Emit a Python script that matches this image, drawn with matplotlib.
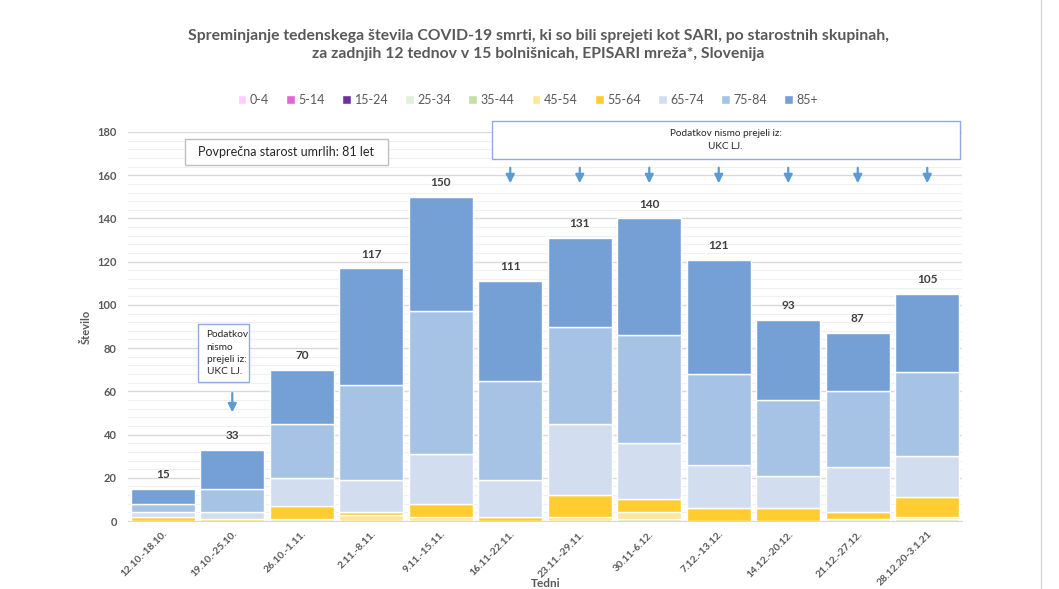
import numpy as np
import matplotlib
matplotlib.use("Agg")
import matplotlib.pyplot as plt
from matplotlib.patches import Rectangle

plt.rcParams["font.family"] = ["Lato", "DejaVu Sans"]

# Data
weeks = ["12.10.-18.10.", "19.10.-25.10.", "26.10.-1.11.", "2.11.-8.11.",
         "9.11.-15.11.", "16.11-22.11.", "23.11.-29.11.", "30.11-6.12.",
         "7.12.-13.12.", "14.12.-20.12.", "21.12.-27.12.", "28.12.20-3.1.21"]
groups = ["0-4", "5-14", "15-24", "25-34", "35-44", "45-54", "55-64", "65-74", "75-84", "85+"]
age_0_4 = [0, 0, 0, 0, 0, 0, 0, 0, 0, 0, 0, 0]
age_5_14 = [0, 0, 0, 0, 0, 0, 0, 0, 0, 0, 0, 0]
age_15_24 = [0, 0, 0, 0, 0, 0, 0, 0, 0, 0, 0, 0]
age_25_34 = [0, 0, 0, 0, 0, 0, 0, 0, 0, 0, 0, 0]
age_35_44 = [0, 0, 1, 0, 0, 0, 0, 1, 0, 0, 1, 1]
age_45_54 = [0, 0, 0, 3, 2, 0, 2, 3, 0, 0, 0, 1]
age_55_64 = [2, 1, 6, 1, 6, 2, 10, 6, 6, 6, 3, 9]
age_65_74 = [2, 3, 13, 15, 23, 17, 33, 26, 20, 15, 21, 19]
age_75_84 = [4, 11, 25, 44, 66, 46, 45, 50, 42, 35, 35, 39]
age_85 = [7, 18, 25, 54, 53, 46, 41, 54, 53, 37, 27, 36]
series = [age_0_4, age_5_14, age_15_24, age_25_34, age_35_44,
          age_45_54, age_55_64, age_65_74, age_75_84, age_85]
colors = ["#FFCCFF", "#E564D6", "#7030A0", "#E2EFDA", "#C5E0A5",
          "#FFE699", "#FFCD2F", "#D2DEEF", "#A6C3E6", "#74A0D6"]
missing_weeks = [5, 6, 7, 8, 9, 10, 11]

txt = "#595959"
fig = plt.figure(figsize=(10.59, 5.89), dpi=100)
ax = fig.add_axes([0.1209, 0.1154, 0.7875, 0.6605])

x = np.arange(len(weeks))
bottom = np.zeros(len(weeks))
for name, vals, c in zip(groups, series, colors):
    ax.bar(x, vals, bottom=bottom, width=0.92, color=c, edgecolor="white",
           linewidth=1, label=name, zorder=3)
    bottom += np.array(vals)

for i, t in enumerate(bottom):
    ax.text(i, t + 4, str(int(t)), ha="center", va="bottom", fontsize=8.5,
            fontweight="bold", color="#404040")

ax.set_xlim(-0.5, len(weeks) - 0.5)
ax.set_ylim(0, 180)
ax.set_yticks(np.arange(0, 181, 20))
ax.set_yticks(np.arange(0, 181, 4), minor=True)
ax.grid(axis="y", which="major", color="#d9d9d9", linewidth=1, zorder=0)
ax.grid(axis="y", which="minor", color="#f0f0f0", linewidth=0.8, zorder=0)
ax.tick_params(axis="y", which="both", length=0, labelsize=8, labelcolor=txt, pad=8)
for lab in ax.get_yticklabels():
    lab.set_fontweight("bold")
ax.set_xticks(x)
ax.set_xticklabels(weeks, rotation=45, ha="right", rotation_mode="anchor",
                   fontsize=7.4, fontweight="bold", color=txt)
ax.tick_params(axis="x", length=0, pad=6)
for s in ["top", "right", "left"]:
    ax.spines[s].set_visible(False)
ax.spines["bottom"].set_color("#d9d9d9")

ax.set_ylabel("Število", fontsize=8, fontweight="bold", color=txt, labelpad=4)
fig.text(0.515, 0.0, "Tedni", ha="center", va="bottom", fontsize=8.5,
         fontweight="bold", color=txt)

fig.text(0.508, 0.924,
         "Spreminjanje tedenskega števila COVID-19 smrti, ki so bili sprejeti kot SARI, po starostnih skupinah,\n"
         "za zadnjih 12 tednov v 15 bolnišnicah, EPISARI mreža*, Slovenija",
         ha="center", va="center", fontsize=11.3, fontweight="bold", color=txt,
         linespacing=1.35)

ax.legend(loc="center", bbox_to_anchor=(0.4985, 0.830), bbox_transform=fig.transFigure,
          ncol=10, frameon=False, fontsize=9, handlelength=0.7, handleheight=0.7,
          handletextpad=0.3, columnspacing=1.35, labelcolor=txt)

# annotations
ax.add_patch(Rectangle((0.32, 164.7), 2.92, 12.1, facecolor="white", edgecolor="#bfbfbf",
                       linewidth=1, zorder=5, clip_on=False))
ax.text(1.78, 170.7, "Povprečna starost umrlih: 81 let", ha="center", va="center",
        fontsize=9, color="#262626", zorder=6)

ax.add_patch(Rectangle((4.74, 167.5), 6.73, 17.6, facecolor="white", edgecolor="#8FAADC",
                       linewidth=1, zorder=5, clip_on=False))
ax.text(8.1, 176.3, "Podatkov nismo prejeli iz:\nUKC LJ.", ha="center", va="center",
        fontsize=7.2, color="#262626", zorder=6, linespacing=1.5)

ax.add_patch(Rectangle((0.51, 64.3), 0.73, 26.9, facecolor="white", edgecolor="#8FAADC",
                       linewidth=1, zorder=5))
ax.text(0.63, 77.7, "Podatkov\nnismo\nprejeli iz:\nUKC LJ.", ha="left", va="center",
        fontsize=7.3, color="#262626", zorder=6, linespacing=1.45)

arrow_kw = dict(arrowstyle="-|>,head_width=0.25,head_length=0.5", color="#5B9BD5", lw=1.6)
ax.annotate("", xy=(1, 49), xytext=(1, 60.5), arrowprops=arrow_kw, zorder=6)
for i in missing_weeks:
    ax.annotate("", xy=(i, 155), xytext=(i, 164.7), arrowprops=arrow_kw, zorder=6,
                annotation_clip=False)

fig.add_artist(plt.Line2D([1041 / 1059, 1041 / 1059], [0, 1], color="#d9d9d9", lw=1))

fig.savefig("out.png", dpi=100)
